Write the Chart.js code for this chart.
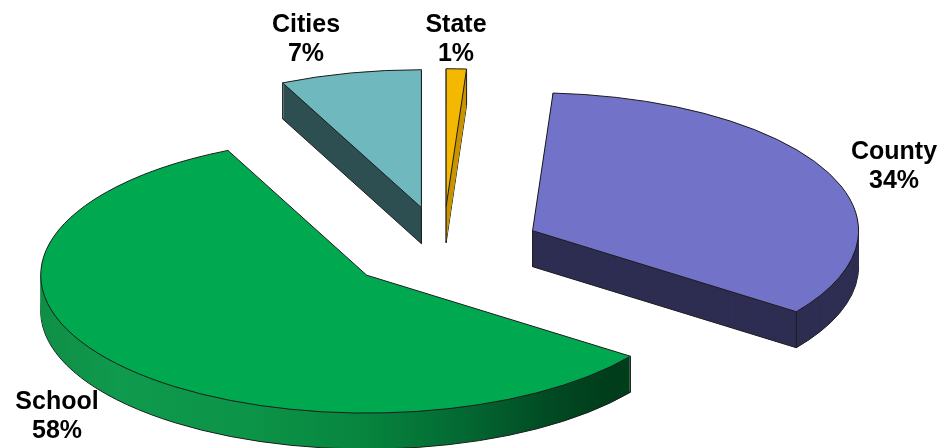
<!DOCTYPE html>
<html lang="en">
<head>
    <meta charset="UTF-8">
    <title>Revenue Share by Level of Government</title>
    <script src="https://cdn.jsdelivr.net/npm/chart.js"></script>
    <style>
        html, body {
            margin: 0;
            padding: 0;
            background: #ffffff;
        }
        .chart-box {
            position: relative;
            width: 939px;
            height: 448px;
        }
    </style>
</head>
<body>

    <div class="chart-box">
        <canvas id="pieChart"></canvas>
    </div>

    <script>
        // data (clockwise from 12 o'clock)
        const categories = ["State", "County", "School", "Cities"];
        const shares = [1, 34, 58, 7];

        const topColors = ["#f4b800", "#7272c8", "#00a94f", "#6eb8be"];
        const sideColors = ["#c99500", "#2e2d52", null, "#2d4f51"];

        // look of the fake 3d pie
        const TILT = 0.423;      // vertical squash of the disc
        const DEPTH = 36;        // thickness in px
        const EXPLODE = 99;      // how far each slice is pulled out
        const EDGE = "#1b1b1b";

        // where the two label lines sit (center x, first baseline)
        const labelSpots = [[456, 32], [894, 159], [57, 409], [306, 32]];

        function wedge(ctx, s, dy) {
            ctx.beginPath();
            ctx.moveTo(s.cx, s.cy + dy);
            ctx.ellipse(s.cx, s.cy + dy, s.rx, s.ry, 0, s.start, s.end);
            ctx.closePath();
        }

        function schoolSide(ctx, s) {
            const g = ctx.createLinearGradient(s.cx - s.rx, 0, s.cx + s.rx, 0);
            g.addColorStop(0, "#0f8f46");
            g.addColorStop(0.12, "#0f9a4d");
            g.addColorStop(0.32, "#0c9448");
            g.addColorStop(0.5, "#07843e");
            g.addColorStop(0.66, "#036631");
            g.addColorStop(0.78, "#014a23");
            g.addColorStop(0.88, "#003c1a");
            g.addColorStop(1, "#004a22");
            return g;
        }

        const pie3d = {
            id: "pie3d",
            beforeDatasetsDraw(chart) {
                const ctx = chart.ctx;
                const arcs = chart.getDatasetMeta(0).data;

                const slices = arcs.map((el, i) => {
                    const mid = (el.startAngle + el.endAngle) / 2;
                    return {
                        i,
                        start: el.startAngle,
                        end: el.endAngle,
                        cx: el.x + Math.cos(mid) * EXPLODE,
                        cy: el.y + Math.sin(mid) * EXPLODE * TILT,
                        rx: el.outerRadius,
                        ry: el.outerRadius * TILT
                    };
                });

                ctx.save();
                ctx.lineWidth = 1;
                ctx.strokeStyle = EDGE;
                ctx.lineJoin = "round";

                // sides: stack of layers, outline on the bottom one
                slices.forEach(s => {
                    const fill = sideColors[s.i] || schoolSide(ctx, s);
                    ctx.fillStyle = fill;
                    wedge(ctx, s, DEPTH);
                    ctx.fill();
                    ctx.stroke();
                    for (let z = DEPTH - 1; z >= 1; z--) {
                        wedge(ctx, s, z);
                        ctx.fill();
                    }
                    // vertical edges at the corners
                    const pts = [
                        [s.cx, s.cy],
                        [s.cx + s.rx * Math.cos(s.start), s.cy + s.ry * Math.sin(s.start)],
                        [s.cx + s.rx * Math.cos(s.end), s.cy + s.ry * Math.sin(s.end)]
                    ];
                    ctx.beginPath();
                    pts.forEach(p => {
                        ctx.moveTo(p[0], p[1]);
                        ctx.lineTo(p[0], p[1] + DEPTH);
                    });
                    ctx.stroke();
                });

                // top faces
                slices.forEach(s => {
                    ctx.fillStyle = topColors[s.i];
                    wedge(ctx, s, 0);
                    ctx.fill();
                    ctx.stroke();
                });

                ctx.restore();
                return false;
            },
            afterDraw(chart) {
                const ctx = chart.ctx;
                const total = shares.reduce((a, b) => a + b, 0);
                ctx.save();
                ctx.fillStyle = "#000000";
                ctx.font = "bold 25px 'Liberation Sans', Arial, sans-serif";
                ctx.textAlign = "center";
                ctx.textBaseline = "alphabetic";
                categories.forEach((name, i) => {
                    const [x, y] = labelSpots[i];
                    const pct = Math.round(shares[i] / total * 100) + "%";
                    ctx.fillText(name, x, y);
                    ctx.fillText(pct, x, y + 29);
                });
                ctx.restore();
            }
        };

        const ctx = document.getElementById("pieChart").getContext("2d");
        new Chart(ctx, {
            type: "pie",
            data: {
                labels: categories,
                datasets: [{
                    data: shares,
                    backgroundColor: topColors,
                    borderWidth: 0,
                    radius: 326
                }]
            },
            options: {
                responsive: true,
                maintainAspectRatio: false,
                animation: false,
                layout: { padding: { left: 0, right: 53, top: 49, bottom: 0 } },
                plugins: {
                    legend: { display: false },
                    tooltip: { enabled: false }
                }
            },
            plugins: [pie3d]
        });
    </script>

</body>
</html>
